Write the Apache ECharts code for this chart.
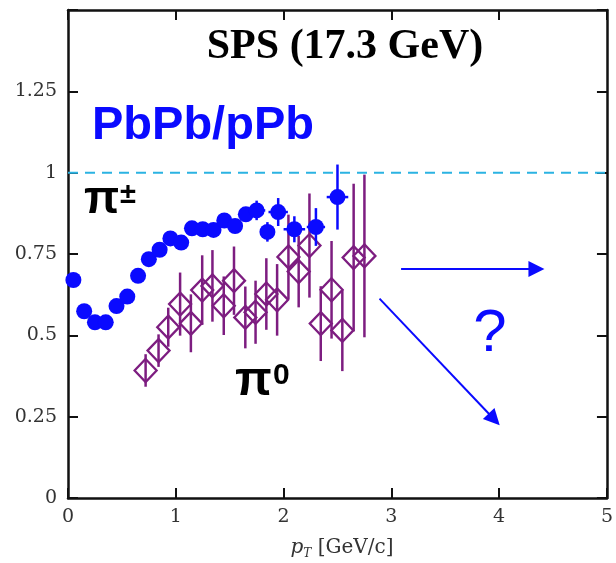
<!DOCTYPE html>
<html>
<head>
<meta charset="utf-8">
<script src="https://cdn.jsdelivr.net/npm/echarts@6/dist/echarts.min.js"></script>
<style>
html,body{margin:0;padding:0;background:#fff;}
#chart{width:616px;height:563px;}
</style>
</head>
<body>
<div id="chart"></div>
<script>
// pi+- (charged pions), PbPb/pPb
const piPmX = [0.05,0.15,0.25,0.35,0.45,0.55,0.65,0.75,0.85,0.95,1.05,1.15,1.25,1.35,1.45,1.55,1.65,1.75,1.85,1.95,2.1,2.3,2.5];
const piPmY = [0.67,0.574,0.54,0.54,0.59,0.619,0.683,0.734,0.763,0.798,0.785,0.829,0.826,0.824,0.853,0.836,0.872,0.884,0.818,0.879,0.826,0.833,0.925];
const piPmErr = [0,0,0,0,0,0,0,0,0,0,0,0,0,0,0,0,0,0.03,0.03,0.043,0.04,0.058,0.1];
const piPmXErr = [0,0,0,0,0,0,0,0,0,0,0,0,0,0,0,0,0,0.08,0,0.09,0.1,0.085,0.1];
// pi0 (neutral pions)
const pi0X = [0.72,0.84,0.93,1.04,1.14,1.245,1.34,1.445,1.54,1.645,1.74,1.84,1.94,2.045,2.14,2.24,2.345,2.445,2.545,2.65,2.75];
const pi0Y = [0.392,0.453,0.525,0.596,0.537,0.639,0.652,0.591,0.668,0.555,0.571,0.627,0.609,0.741,0.696,0.776,0.536,0.64,0.515,0.739,0.744];
const pi0Err = [0.05,0.05,0.06,0.097,0.089,0.107,0.11,0.09,0.105,0.095,0.097,0.11,0.11,0.13,0.11,0.16,0.115,0.15,0.125,0.227,0.25];
// reference line at unity
const refX = [0,5];
const refY = [1,1];
// arrow annotations (data coordinates: x1, y1, x2, y2)
const arrows = [
  [3.09,0.704,4.42,0.704],
  [2.89,0.613,4.005,0.224]
];
// axes
const xTicks = [0,1,2,3,4,5];
const yTicks = [0,0.25,0.5,0.75,1,1.25];

const BLUE = '#0a0aff';
const PURPLE = '#7d1d80';

const chart = echarts.init(document.getElementById('chart'), null, {renderer:'canvas'});

function errRender(color, width) {
  return function(params, api) {
    const x = api.value(0), y = api.value(1), e = api.value(2), ex = api.value(3);
    const children = [];
    if (e > 0) {
      const a = api.coord([x, y + e]), b = api.coord([x, y - e]);
      children.push({type:'line', shape:{x1:a[0],y1:a[1],x2:b[0],y2:b[1]}, style:{stroke:color,lineWidth:width}});
    }
    if (ex > 0) {
      const a = api.coord([x - ex, y]), b = api.coord([x + ex, y]);
      children.push({type:'line', shape:{x1:a[0],y1:a[1],x2:b[0],y2:b[1]}, style:{stroke:color,lineWidth:width}});
    }
    return {type:'group', children};
  };
}

function arrowRender(params, api) {
  const a = api.coord([api.value(0), api.value(1)]);
  const b = api.coord([api.value(2), api.value(3)]);
  const dx = b[0]-a[0], dy = b[1]-a[1];
  const L = Math.sqrt(dx*dx+dy*dy);
  const ux = dx/L, uy = dy/L;
  const hl = 16, hw = 8;
  const bx = b[0]-ux*hl, by = b[1]-uy*hl;
  return {type:'group', children:[
    {type:'line', shape:{x1:a[0],y1:a[1],x2:bx+ux*2,y2:by+uy*2}, style:{stroke:BLUE,lineWidth:2}},
    {type:'polygon', shape:{points:[[b[0],b[1]],[bx-uy*hw,by+ux*hw],[bx+uy*hw,by-ux*hw]]}, style:{fill:BLUE}}
  ]};
}

const axisCommon = {
  min:0, max:5, interval:1,
  axisLine:{show:true, onZero:false, lineStyle:{color:'#111', width:2.5}},
  axisTick:{show:true, inside:true, length:10, lineStyle:{color:'#111', width:2}},
  splitLine:{show:false}
};
const yCommon = {
  min:0, max:1.5, interval:0.25,
  axisLine:{show:true, onZero:false, lineStyle:{color:'#111', width:2.5}},
  axisTick:{show:true, inside:true, length:10, lineStyle:{color:'#111', width:2}},
  splitLine:{show:false}
};

const option = {
  animation:false,
  backgroundColor:'#fff',
  grid:{left:68, right:7, top:10, bottom:65},
  xAxis:[
    Object.assign({type:'value', position:'bottom',
      axisLabel:{show:true, margin:10, fontFamily:'DejaVu Serif', fontSize:19, color:'#333',
        formatter: v => xTicks.indexOf(v) >= 0 ? String(v) : ''}}, axisCommon),
    Object.assign({type:'value', position:'top', axisLabel:{show:false}}, axisCommon)
  ],
  yAxis:[
    Object.assign({type:'value', position:'left',
      axisLabel:{show:true, margin:11, fontFamily:'DejaVu Serif', fontSize:19, color:'#333',
        formatter: v => yTicks.indexOf(v) >= 0 ? String(v) : ''}}, yCommon),
    Object.assign({type:'value', position:'right', axisLabel:{show:false}}, yCommon)
  ],
  series:[
    {
      type:'line', data: refX.map((x,i)=>[x, refY[i]]), symbol:'none', silent:true,
      lineStyle:{color:'#2bb3e2', width:2, type:[10,7]}
    },
    {
      type:'custom', renderItem: arrowRender, silent:true,
      data: arrows, encode:{x:[0,2], y:[1,3]}, z:6
    },
    {
      type:'custom', renderItem: errRender(PURPLE, 2.5), silent:true,
      data: pi0X.map((x,i)=>[x, pi0Y[i], pi0Err[i], 0]),
      encode:{x:0, y:1}, z:2
    },
    {
      type:'scatter', symbol:'diamond', symbolSize:[22,23], silent:true,
      data: pi0X.map((x,i)=>[x, pi0Y[i]]),
      itemStyle:{color:'rgba(0,0,0,0)', borderColor:PURPLE, borderWidth:2.3, opacity:1}, z:3
    },
    {
      type:'custom', renderItem: errRender(BLUE, 2.5), silent:true,
      data: piPmX.map((x,i)=>[x, piPmY[i], piPmErr[i], piPmXErr[i]]),
      encode:{x:0, y:1}, z:4
    },
    {
      type:'scatter', symbol:'circle', symbolSize:16, silent:true,
      data: piPmX.map((x,i)=>[x, piPmY[i]]),
      itemStyle:{color:BLUE, opacity:1}, z:5
    }
  ],
  graphic:[
    {type:'text', x:345, y:47, z:10,
      style:{text:'SPS (17.3 GeV)', fontFamily:'Liberation Serif', fontWeight:'bold', fontSize:42,
        fill:'#000', textAlign:'center', textVerticalAlign:'middle'}},
    {type:'text', x:92, y:126, z:10,
      style:{text:'PbPb/pPb', fontFamily:'Liberation Sans', fontWeight:'bold', fontSize:47,
        fill:BLUE, textAlign:'left', textVerticalAlign:'middle'}},
    {type:'text', x:84, y:200, z:10,
      style:{text:'π', fontFamily:'Liberation Sans', fontWeight:'bold', fontSize:46,
        fill:'#000', textAlign:'left', textVerticalAlign:'middle'}},
    {type:'text', x:120, y:195, z:10,
      style:{text:'±', fontFamily:'Liberation Sans', fontWeight:'bold', fontSize:29,
        fill:'#000', textAlign:'left', textVerticalAlign:'middle'}},
    {type:'text', x:235, y:382, z:10,
      style:{text:'π', fontFamily:'Liberation Sans', fontWeight:'bold', fontSize:48,
        fill:'#000', textAlign:'left', textVerticalAlign:'middle'}},
    {type:'text', x:273, y:376, z:10,
      style:{text:'0', fontFamily:'Liberation Sans', fontWeight:'bold', fontSize:30,
        fill:'#000', textAlign:'left', textVerticalAlign:'middle'}},
    {type:'text', x:490, y:334, z:10,
      style:{text:'?', fontFamily:'Liberation Sans', fontSize:60,
        fill:BLUE, textAlign:'center', textVerticalAlign:'middle'}},
    {type:'text', x:342, y:548, z:10,
      style:{
        text:'{p|p}{t|T}{n| [GeV/c]}',
        textAlign:'center', textVerticalAlign:'middle',
        rich:{
          p:{fontFamily:'DejaVu Serif', fontStyle:'italic', fontSize:20, fill:'#333', lineHeight:24},
          t:{fontFamily:'DejaVu Serif', fontStyle:'italic', fontSize:12, fill:'#333', lineHeight:24, verticalAlign:'bottom'},
          n:{fontFamily:'DejaVu Serif', fontSize:20, fill:'#333', lineHeight:24}
        }
      }}
  ]
};
chart.setOption(option);
</script>
</body>
</html>
